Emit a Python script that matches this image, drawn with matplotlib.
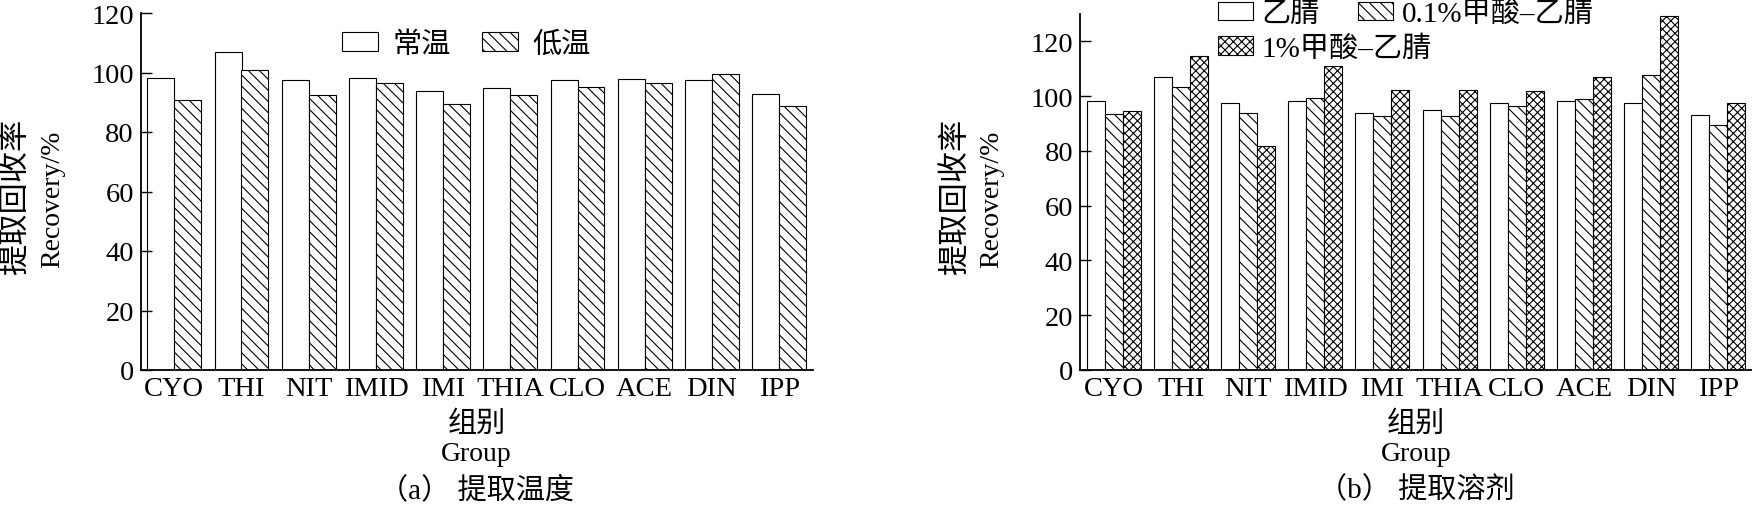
import matplotlib.pyplot as plt
import numpy as np

groups = ['CYO', 'THI', 'NIT', 'IMID', 'IMI', 'THIA', 'CLO', 'ACE', 'DIN', 'IPP']

# (a) extraction temperature
room_temp = [98.2, 107.0, 97.5, 98.2, 93.7, 94.8, 97.4, 97.9, 97.5, 92.9]
low_temp = [90.9, 100.7, 92.4, 96.6, 89.4, 92.5, 95.2, 96.6, 99.6, 88.6]

# (b) extraction solvent
acn = [98.2, 107.1, 97.6, 98.2, 93.7, 95.0, 97.4, 98.1, 97.6, 93.0]
fa01_acn = [93.6, 103.2, 93.7, 99.3, 92.9, 92.7, 96.5, 98.9, 107.8, 89.6]
fa1_acn = [94.4, 114.5, 81.9, 110.9, 102.1, 102.1, 101.9, 107.1, 129.1, 97.5]

y_ticks = [0, 20, 40, 60, 80, 100, 120]

W, H = 1752, 506
plt.rcParams['font.family'] = ['Liberation Serif', 'Noto Sans CJK SC']
plt.rcParams['hatch.linewidth'] = 0.8

fig = plt.figure(figsize=(W / 100, H / 100), dpi=100)


def px_axes(left, top, right, bottom):
    """adds an axes placed by pixel edges"""
    return fig.add_axes([left / W, 1 - bottom / H, (right - left) / W, (bottom - top) / H])


def px_text(x, y, s, **kw):
    fig.text(x / W, 1 - y / H, s, ha='center', va='center', **kw)


def style_axes(ax, ytop):
    ax.set_xlim(-0.5, len(groups) - 0.5)
    ax.set_ylim(0, ytop)
    ax.set_xticks(np.arange(len(groups)))
    ax.set_xticklabels(groups)
    ax.set_yticks(y_ticks)
    for side in ['top', 'right']:
        ax.spines[side].set_visible(False)
    for side in ['left', 'bottom']:
        ax.spines[side].set_linewidth(1.3)
    ax.tick_params(axis='y', direction='in', length=8, width=1, labelsize=20.5, pad=5)
    ax.tick_params(axis='x', length=0, labelsize=20.5, pad=4)


x = np.arange(len(groups))
bar_kw = dict(facecolor='white', edgecolor='black', linewidth=0.8)

# panel (a)
ax1 = px_axes(140.7, 14, 812.7, 371)
w = 0.4
b1 = ax1.bar(x - w / 2, room_temp, w, **bar_kw)
b2 = ax1.bar(x + w / 2, low_temp, w, hatch='\\\\\\', **bar_kw)
style_axes(ax1, 120)
ax1.legend([b1, b2], ['常温', '低温'], ncol=2, loc='center left', frameon=False,
           bbox_to_anchor=(342 / W, 1 - 45.5 / H), bbox_transform=fig.transFigure,
           fontsize=21, borderpad=0, borderaxespad=0, handlelength=1.23,
           handleheight=0.58, handletextpad=0.5, columnspacing=1.06)

# panel (b)
ax2 = px_axes(1080, 15, 1752, 371)
w = 0.268
c1 = ax2.bar(x - w, acn, w, **bar_kw)
c2 = ax2.bar(x, fa01_acn, w, hatch='\\\\\\', **bar_kw)
c3 = ax2.bar(x + w, fa1_acn, w, hatch='xxxx', **bar_kw)
style_axes(ax2, 130)
leg_kw = dict(loc='center left', frameon=False, bbox_transform=fig.transFigure,
              fontsize=21, borderpad=0, borderaxespad=0, handlelength=1.2,
              handleheight=0.58, handletextpad=0.3, columnspacing=1.3)
leg = ax2.legend([c1, c2], ['乙腈', '0.1%甲酸–乙腈'], ncol=2,
                 bbox_to_anchor=(1218 / W, 1 - 15 / H), **leg_kw)
ax2.add_artist(leg)
ax2.legend([c3], ['1%甲酸–乙腈'], bbox_to_anchor=(1218 / W, 1 - 49.5 / H), **leg_kw)

# axis titles and captions
for axis_left, center, cap in [(140.7, 476.7, '（a） 提取温度'), (1080, 1416, '（b） 提取溶剂')]:
    px_text(axis_left - 124, 197, '提取回收率', fontsize=22.5, rotation=90)
    px_text(axis_left - 88, 199, 'Recovery/%', fontsize=20, rotation=90)
    px_text(center, 425, '组别', fontsize=21)
    px_text(center, 455, 'Group', fontsize=20)
    px_text(center, 490, cap, fontsize=21)

fig.savefig('out.png', dpi=100)
